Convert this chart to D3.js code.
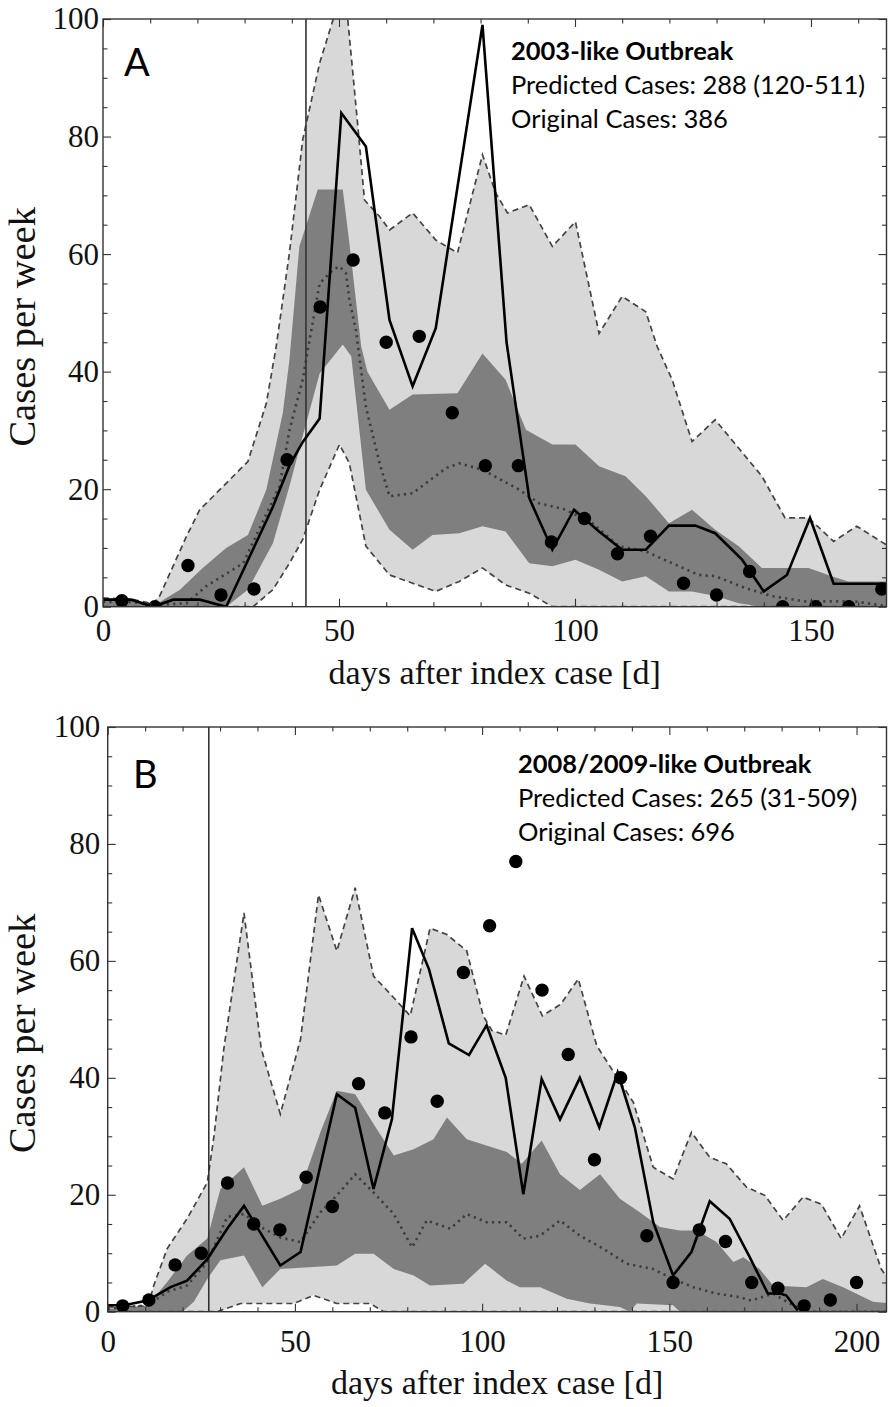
<!DOCTYPE html>
<html><head><meta charset="utf-8">
<script src="https://cdn.jsdelivr.net/npm/d3@7"></script>
<style>body{margin:0;background:#fff} svg{display:block}</style>
</head><body>
<svg id="chart" width="888" height="1407"></svg>
<script>
// ---------------- Panel A data (days, cases per week) ----------------
const A_dotDays = [4,11,18,25,32,39,46,53,60,67,74,81,88,95,102,109,116,123,130,137,144,151,158,165];
const A_dotCases = [1,0,7,2,3,25,51,59,45,46,33,24,24,11,15,9,12,4,2,6,0,0,0,3];
const A_solid = [[0,1.2],[6,1.2],[10.6,0],[14.9,1.2],[20.5,1.2],[26.1,0],[36,17],[39.5,24],[42.3,28],[45.9,32],[50.5,84],[55.7,78.3],[60.7,48.8],[65.6,37.5],[70.5,47.4],[80.4,99],[85.5,45],[90.3,18.5],[95.2,9.7],[99.8,16.5],[105.1,12.8],[110,9.7],[115,9.7],[119.9,13.8],[125.5,13.8],[129.7,12.5],[135.4,8],[140,2.6],[144.9,5.4],[149.8,15.1],[154.8,3.9],[166,3.9]];
const A_median = [[0,0.8],[6,0.8],[11,0.3],[17.7,0.6],[21.9,3.5],[29.7,7.4],[37.4,20.5],[39.5,30],[42.3,38.6],[43.4,43.7],[45.9,55],[48.7,57.3],[50.1,57.9],[51.5,56.7],[52.2,52.2],[53.6,47],[55.7,34],[58.6,24.4],[60.7,18.8],[65.6,19.3],[72.7,23.6],[75.5,24.4],[80.4,23.3],[88.2,19.9],[92.4,17.6],[98,16.5],[103.7,14.2],[109.3,10.3],[115,9.4],[120.6,7.4],[126.2,5.4],[129.7,5.2],[136,3.2],[141.7,1.8],[148.8,0.9],[159.3,0.9],[166,0.1]];
const A_innerUpper = [[0,1],[6,1],[11,0.3],[16.3,2.9],[21,6.5],[26.1,10],[30.7,12.2],[34.6,19.9],[38.1,33],[39.5,42],[41.6,61.3],[45.5,71],[50.8,71],[52.2,61.9],[54.7,44.3],[56,40],[60.7,33.5],[65.6,36.1],[75.1,36.3],[80.4,43.1],[85.3,38.6],[89.6,30.1],[95.2,27.6],[100.1,27.6],[105.1,23.9],[110.7,22.2],[115,18.8],[119.9,14.2],[124.8,16.5],[129.7,13.1],[134.7,10.3],[139.6,6.6],[149.5,6.6],[154.4,5.2],[157.9,4.3],[166,4.3]];
const A_innerLower = [[0,0],[26.1,0],[30.7,2.9],[36,10.8],[39.5,20.5],[42.3,29],[45.9,39.7],[50.8,44.6],[52.6,42.6],[55.7,19.9],[60.7,13.1],[65.6,9.7],[69.8,12.2],[75.5,12.5],[80.4,13.7],[85.3,12.8],[90.3,7.4],[95.2,6.9],[100.1,8],[105.1,6.3],[110,4.3],[115,5.2],[119.9,2.6],[124.8,2.6],[129.7,1.8],[134.7,0.6],[139.6,0],[166,0]];
const A_outerUpper = [[0,1.5],[6.4,1.2],[10.6,0.5],[12,1.8],[17.7,12],[20.5,16.5],[26.1,21],[30.7,24.7],[34.6,34.6],[36.7,44.3],[39.5,60.2],[42.3,79.4],[45.9,92.5],[48.7,99.8],[50,103],[51.5,103],[54,81.7],[55.4,69.2],[58.6,66.4],[60.7,64.1],[65.6,67],[70.5,62.4],[75.1,60.2],[80.4,76.9],[83.2,70.4],[85.7,67],[90.3,68.4],[95.2,61.3],[100.1,65.5],[105.1,46.5],[110,52.8],[115,50.2],[117.4,44.3],[120.6,38.6],[124.8,28.1],[129.7,31.8],[139.6,22.2],[144.5,15.1],[149.5,15.1],[154.8,11.1],[159.7,13.7],[166,10.5]];
const A_outerLower = [[0,0],[31.8,0],[36,2.9],[39.5,7.4],[42.3,11.4],[45.9,19.9],[50.1,27.6],[52.2,24.4],[55.7,10.3],[60.7,5.4],[65.6,4],[70.5,2.6],[75.5,4.3],[80.4,6.6],[85.3,3.7],[90.3,2.3],[95.2,0],[166,0]];
const A_xTicksMajor = [0,50,100,150];
const A_text = ["2003-like Outbreak","Predicted Cases: 288 (120-511)","Original Cases: 386"];

// ---------------- Panel B data ----------------
const B_dotDays = [4,11,18,25,32,39,46,53,60,67,74,81,88,95,102,109,116,123,130,137,144,151,158,165,172,179,186,193,200];
const B_dotCases = [1,2,8,10,22,15,14,23,18,39,34,47,36,58,66,77,55,44,26,40,13,5,14,12,5,4,1,2,5];
const B_solid = [[0,1.1],[4.4,1.1],[10.6,1.9],[16.8,4.2],[21.2,5.3],[26.6,9],[31.9,14.2],[36.4,18.1],[46.1,7.9],[51.5,10.2],[61.2,37.2],[66.1,34.9],[71,21],[75.9,32.9],[81.3,65.6],[85.8,58.6],[91.1,45.9],[96.5,43.9],[101.2,49],[106.3,40],[111,20.1],[115.9,39.8],[120.8,32.9],[126.1,40],[131.3,31.5],[136.2,40.9],[140.8,31.5],[145.7,15.3],[151,6.2],[155.9,10.2],[160.8,18.9],[166.1,15.9],[171.5,9.3],[176.3,3.1],[179.5,3.1],[181.2,2.8],[184.3,0.2]];
const B_median = [[0,0.5],[10.6,1.1],[15.9,3.4],[21.2,4.5],[26.6,8.5],[31.9,16.2],[36.4,16.7],[41.7,14.2],[46.1,12.7],[51.5,11.9],[56.8,17],[61.2,19.9],[66.1,23.5],[71,20.4],[76.4,16.7],[81.3,11],[85.2,15.6],[91.5,14.2],[95.9,16.7],[101.2,15.3],[106.6,15.3],[111,12.5],[115.5,13],[120.8,15.6],[126.1,13],[132.3,10.8],[138.6,8.2],[145.7,7.3],[151,5.6],[156.4,4.2],[162.6,3.1],[168.8,2.5],[171.8,1.9],[177.7,3.1],[183,1.1],[186.6,0],[208,0]];
const B_innerUpper = [[0,0.5],[10.6,1],[15.9,5.1],[21.2,9.6],[26.6,12.5],[30.1,21],[36.4,24.7],[41.3,18.1],[46.1,19.3],[51.5,21],[56.8,30.7],[61.2,37.8],[66.1,37.2],[71,32.1],[76.4,26.7],[81.7,27.8],[87,29.5],[90.6,33.2],[95.9,29.5],[106.6,27.3],[110.6,25.3],[115.9,29.3],[120.8,23.5],[126.1,20.8],[131.5,23.5],[136.8,19.3],[142.1,17],[147.5,14.5],[152.8,13.9],[157.3,13.9],[162.6,11.9],[167.1,8.5],[169.8,9.3],[174.1,7.3],[177.7,4.5],[186.6,4.2],[191,5.6],[196.4,4.2],[204.4,1.7],[208,1.5]];
const B_innerLower = [[0,0],[20,0],[23,1.7],[26.6,5.6],[30.1,8.8],[36.4,9.6],[41.3,4.2],[46.1,7.3],[61.2,7.9],[66.1,9.9],[71,9.9],[76.4,7.3],[81.7,6.2],[86.1,4.5],[95,4.8],[100.8,8.2],[106.6,5.3],[110.1,4.2],[115.5,4.2],[122.6,2.2],[128.8,1.4],[136.8,0.8],[139.5,0],[141.3,1.4],[151,1.1],[152.8,0],[208,0]];
const B_outerUpper = [[0,0.8],[10.8,1],[12.3,4.5],[15.9,10.8],[21.2,15.9],[26.6,22.1],[28.4,30.1],[31,44.9],[36.4,68.2],[41,45],[46.1,33.8],[51.5,46.6],[56.3,71.3],[61.2,61.7],[66.1,72.5],[71,57.4],[76.4,53.7],[80.8,50.6],[86.1,65.6],[90.6,64.5],[95.9,61.7],[100.3,50.6],[102.6,48.1],[106.3,47.3],[111.2,57.4],[116.1,50.6],[121,52.6],[125.7,56.9],[130.6,45.5],[134.1,42],[140.4,35.8],[145.7,24.7],[151,22.7],[155.9,30.7],[160.8,26.4],[165.2,25.3],[170.6,21.3],[175.5,19.9],[180.4,15.6],[185.7,19.6],[190.6,18.4],[195.9,12.5],[200.8,18.1],[206.6,7.3],[208,6]];
const B_outerLower = [[0,0],[29.2,0],[35.5,1.4],[49.7,1.4],[55,2.8],[61.2,1.4],[70.1,1.4],[73.7,0],[208,0]];
const B_xTicksMajor = [0,50,100,150,200];
const B_text = ["2008/2009-like Outbreak","Predicted Cases: 265 (31-509)","Original Cases: 696"];

const yTicksMajor = [0,20,40,60,80,100];

// ---------------- styles ----------------
const LIGHT = "#d8d8d8", DARK = "#7f7f7f";
const SERIF = "'Liberation Serif','Times New Roman',serif";
const SANS = "Lato, 'Open Sans', sans-serif";

const svg = d3.select("#chart");
const defs = svg.append("defs");

function drawPanel(p) {
  const x = d3.scaleLinear().domain([0, p.xMax]).range([p.left, p.right]);
  const y = d3.scaleLinear().domain([0, 100]).range([p.bottom, p.top]);
  const clipId = "clip" + p.id;
  defs.append("clipPath").attr("id", clipId).append("rect")
    .attr("x", p.left).attr("y", p.top).attr("width", p.right - p.left).attr("height", p.bottom - p.top);
  const g = svg.append("g");
  const plot = g.append("g").attr("clip-path", `url(#${clipId})`);
  const line = d3.line().x(d => x(d[0])).y(d => y(d[1]));
  const band = (up, lo) => line(up.concat(lo.slice().reverse())) + "Z";

  plot.append("path").attr("d", band(p.outerUp, p.outerLo)).attr("fill", LIGHT);
  plot.append("path").attr("d", band(p.innerUp, p.innerLo)).attr("fill", DARK);
  [p.outerUp, p.outerLo].forEach(s => plot.append("path").attr("d", line(s))
    .attr("fill", "none").attr("stroke", "#444").attr("stroke-width", 1.7).attr("stroke-dasharray", "6,4"));
  plot.append("path").attr("d", line(p.median)).attr("fill", "none")
    .attr("stroke", "#3c3c3c").attr("stroke-width", 2.6).attr("stroke-dasharray", "2.2,4.2");
  plot.append("line").attr("x1", x(p.vline)).attr("x2", x(p.vline)).attr("y1", p.top).attr("y2", p.bottom)
    .attr("stroke", "#333").attr("stroke-width", 1.6);
  plot.append("path").attr("d", line(p.solid)).attr("fill", "none")
    .attr("stroke", "#000").attr("stroke-width", 2.6).attr("stroke-linejoin", "miter");
  plot.selectAll("circle.obs").data(d3.zip(p.dotDays, p.dotCases)).join("circle")
    .attr("class", "obs").attr("cx", d => x(d[0])).attr("cy", d => y(d[1])).attr("r", 6.7).attr("fill", "#000");

  // axes (ticks inward on all four sides)
  const xMinor = d3.range(10, p.xMax, 10).filter(v => v % 50 !== 0);
  const yMinor = d3.range(5, 100, 5).filter(v => v % 20 !== 0);
  const styleAxis = sel => {
    sel.select(".domain").remove();
    sel.selectAll(".tick line").attr("stroke", "#333").attr("stroke-width", 1.1);
    sel.selectAll("text").attr("font-family", SERIF).attr("font-size", 31).attr("fill", "#111");
  };
  g.append("g").attr("transform", `translate(0,${p.bottom})`)
    .call(d3.axisBottom(x).tickValues(xMinor).tickSize(-4.5).tickFormat("")).call(styleAxis);
  g.append("g").attr("transform", `translate(0,${p.bottom})`)
    .call(d3.axisBottom(x).tickValues(p.xMajor).tickSize(-8).tickPadding(p.xPad).tickFormat(d3.format("d"))).call(styleAxis);
  g.append("g").attr("transform", `translate(0,${p.top})`)
    .call(d3.axisTop(x).tickValues(xMinor).tickSize(-4.5).tickFormat("")).call(styleAxis);
  g.append("g").attr("transform", `translate(0,${p.top})`)
    .call(d3.axisTop(x).tickValues(p.xMajor).tickSize(-8).tickFormat("")).call(styleAxis);
  g.append("g").attr("transform", `translate(${p.left},0)`)
    .call(d3.axisLeft(y).tickValues(yMinor).tickSize(-4.5).tickFormat("")).call(styleAxis);
  g.append("g").attr("transform", `translate(${p.left},0)`)
    .call(d3.axisLeft(y).tickValues(yTicksMajor).tickSize(-8).tickPadding(p.yPad).tickFormat(d3.format("d"))).call(styleAxis);
  g.append("g").attr("transform", `translate(${p.right},0)`)
    .call(d3.axisRight(y).tickValues(yMinor).tickSize(-4.5).tickFormat("")).call(styleAxis);
  g.append("g").attr("transform", `translate(${p.right},0)`)
    .call(d3.axisRight(y).tickValues(yTicksMajor).tickSize(-8).tickFormat("")).call(styleAxis);

  g.append("rect").attr("x", p.left).attr("y", p.top).attr("width", p.right - p.left).attr("height", p.bottom - p.top)
    .attr("fill", "none").attr("stroke", "#333").attr("stroke-width", 1.4);

  // axis titles
  g.append("text").attr("x", (p.left + p.right) / 2).attr("y", p.bottom + p.titleOff)
    .attr("text-anchor", "middle").attr("font-family", SERIF).attr("font-size", 34).attr("fill", "#111")
    .text("days after index case [d]");
  g.append("text").attr("transform", `translate(35,${(p.top + p.bottom) / 2 + 14}) rotate(-90)`)
    .attr("text-anchor", "middle").attr("font-family", SERIF).attr("font-size", 38.5).attr("fill", "#111")
    .text("Cases per week");

  // panel letter and annotation
  g.append("text").attr("x", p.letterX).attr("y", p.letterY).attr("font-family", SANS)
    .attr("font-size", 38).attr("fill", "#000").text(p.letter);
  p.text.forEach((t, i) => g.append("text").attr("x", p.annX).attr("y", p.annY + i * 34)
    .attr("font-family", SANS).attr("font-size", 25.5).attr("font-weight", i === 0 ? "bold" : "normal")
    .attr("fill", "#000").text(t));
}

drawPanel({id: "A", left: 103, right: 886.5, top: 19, bottom: 606.7, xMax: 166, vline: 43,
  xMajor: A_xTicksMajor, xPad: 12.5, yPad: 4, titleOff: 77,
  dotDays: A_dotDays, dotCases: A_dotCases, solid: A_solid, median: A_median,
  innerUp: A_innerUpper, innerLo: A_innerLower, outerUp: A_outerUpper, outerLo: A_outerLower,
  letter: "A", letterX: 124, letterY: 76, text: A_text, annX: 511, annY: 60});

drawPanel({id: "B", left: 107.7, right: 886.5, top: 727, bottom: 1311.7, xMax: 208, vline: 27,
  xMajor: B_xTicksMajor, xPad: 18, yPad: 7.5, titleOff: 82,
  dotDays: B_dotDays, dotCases: B_dotCases, solid: B_solid, median: B_median,
  innerUp: B_innerUpper, innerLo: B_innerLower, outerUp: B_outerUpper, outerLo: B_outerLower,
  letter: "B", letterX: 133, letterY: 788, text: B_text, annX: 518, annY: 773});
</script>
</body></html>
